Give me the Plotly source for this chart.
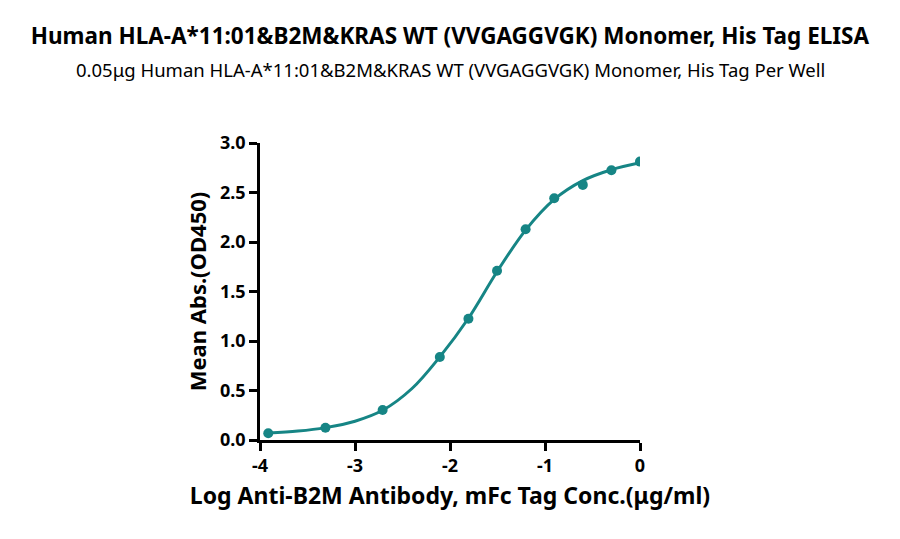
import plotly.graph_objects as go

# Log concentration (ug/ml) and mean OD450
log_conc = [-3.913, -3.311, -2.709, -2.107, -1.806, -1.505, -1.204, -0.903, -0.602, -0.301, 0.0]
mean_od = [0.068, 0.124, 0.303, 0.838, 1.224, 1.709, 2.129, 2.442, 2.577, 2.725, 2.812]

# Fitted curve
fit_x = [-3.913, -3.6, -3.311, -3.0, -2.709, -2.4, -2.107, -1.806, -1.505, -1.204, -0.903, -0.602, -0.301, 0.0]
fit_y = [0.07, 0.09, 0.125, 0.19, 0.30, 0.52, 0.84, 1.23, 1.70, 2.12, 2.43, 2.62, 2.73, 2.80]

x_ticks = [-4, -3, -2, -1, 0]
y_ticks = [0.0, 0.5, 1.0, 1.5, 2.0, 2.5, 3.0]

teal = '#168585'
font = 'Noto Sans'

fig = go.Figure()
fig.add_trace(go.Scatter(x=fit_x, y=fit_y, mode='lines',
                         line=dict(color=teal, width=3, shape='spline', smoothing=1.0),
                         hoverinfo='skip', showlegend=False))
fig.add_trace(go.Scatter(x=log_conc, y=mean_od, mode='markers',
                         marker=dict(color=teal, size=10), showlegend=False))

fig.update_layout(
    width=900, height=539,
    paper_bgcolor='white', plot_bgcolor='white',
    margin=dict(l=252, r=268, t=135, b=107),
    font=dict(family=font, color='black'),
    title=dict(
        text='<b>Human HLA-A*11:01&B2M&KRAS WT (VVGAGGVGK) Monomer, His Tag ELISA</b>',
        x=0.491, xanchor='center', y=1 - 28 / 539, yanchor='middle',
        font=dict(size=22.5, family=font, color='black'),
    ),
    annotations=[dict(
        text='0.05μg Human HLA-A*11:01&B2M&KRAS WT (VVGAGGVGK) Monomer, His Tag Per Well',
        xref='paper', yref='paper', x=(442 - 252) / 380, y=(432 - 61) / 297,
        xanchor='center', yanchor='middle', showarrow=False,
        font=dict(size=18.5, family=font, color='black'),
    )],
)

fig.update_xaxes(
    range=[-4, 0], tickvals=x_ticks, ticktext=[str(v) for v in x_ticks],
    showgrid=False, zeroline=False, showline=True, linecolor='black', linewidth=2.5,
    ticks='outside', ticklen=8, tickwidth=2.5, tickcolor='black',
    tickfont=dict(size=18, family=font, weight='bold'),
    title=dict(text='<b>Log Anti-B2M Antibody, mFc Tag Conc.(μg/ml)</b>',
               font=dict(size=23, family=font), standoff=12),
)
fig.update_yaxes(
    range=[0, 3.0], tickvals=y_ticks, ticktext=[f'{v:.1f}' for v in y_ticks],
    showgrid=False, zeroline=False, showline=True, linecolor='black', linewidth=2.5,
    ticks='outside', ticklen=8, tickwidth=2.5, tickcolor='black',
    tickfont=dict(size=18, family=font, weight='bold'),
    title=dict(text='<b>Mean Abs.(OD450)</b>', font=dict(size=22, family=font), standoff=8),
)

fig.write_html('out.html')
